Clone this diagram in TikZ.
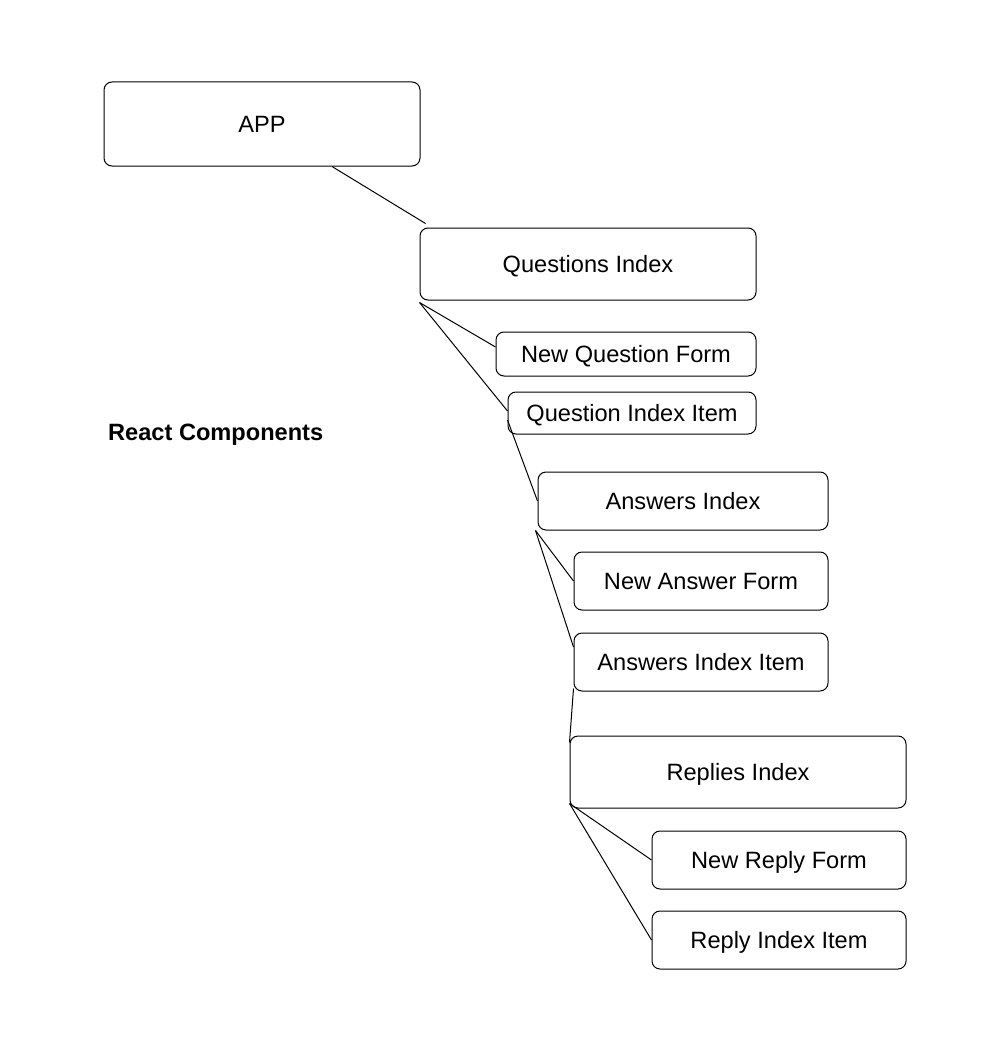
\documentclass[tikz,border=0pt]{standalone}
\usepackage{fontspec}
\setmainfont{Liberation Sans}
\begin{document}
\begin{tikzpicture}[x=1pt,y=-1pt,
  box/.style={draw=black, line width=1pt, rounded corners=8pt, inner sep=0pt, text height=16.8pt, text depth=0pt, font=\fontsize{23.6}{28}\selectfont},
  conn/.style={draw=black, line width=1pt}]
\useasboundingbox (0,0) rectangle (984,1054);
\fill[white] (0,0) rectangle (984,1054);
\node[box, minimum width=316pt, minimum height=84pt] (app) at (262,124) {APP};
\node[box, minimum width=336pt, minimum height=72pt] (qi) at (588,264) {Questions Index};
\node[box, minimum width=260pt, minimum height=44pt] (nqf) at (626,354) {New Question Form};
\node[box, minimum width=248pt, minimum height=42pt] (qii) at (632,413) {Question Index Item};
\node[box, minimum width=290pt, minimum height=58pt] (ai) at (683,501) {Answers Index};
\node[box, minimum width=254pt, minimum height=58pt] (naf) at (701,581) {New Answer Form};
\node[box, minimum width=254pt, minimum height=58pt] (aii) at (701,662) {Answers Index Item};
\node[box, minimum width=336pt, minimum height=72pt] (ri) at (738,772) {Replies Index};
\node[box, minimum width=254pt, minimum height=58pt] (nrf) at (779,860) {New Reply Form};
\node[box, minimum width=254pt, minimum height=58pt] (rii) at (779,940) {Reply Index Item};
\node[font=\fontsize{23.6}{28}\selectfont\bfseries, anchor=west, inner sep=0pt, text height=16.8pt, text depth=0pt] (rc) at (108,432) {React Components};
\draw[conn] ([xshift=70pt]app.south) -- ([xshift=6pt,yshift=4pt]qi.north west);
\draw[conn] ([yshift=-2pt]qi.south west) -- ([yshift=7pt]nqf.west);
\draw[conn] ([yshift=-2pt]qi.south west) -- ([yshift=2pt]qii.west);
\draw[conn] ([yshift=-7pt]qii.west) -- (ai.west);
\draw[conn] ([xshift=-2pt]ai.south west) -- (naf.west);
\draw[conn] ([xshift=-2pt]ai.south west) -- ([yshift=15pt]aii.west);
\draw[conn] ([yshift=3pt]aii.south west) -- ([yshift=-7pt]ri.north west);
\draw[conn] ([yshift=5pt]ri.south west) -- (nrf.west);
\draw[conn] ([yshift=5pt]ri.south west) -- (rii.west);
\end{tikzpicture}
\end{document}
